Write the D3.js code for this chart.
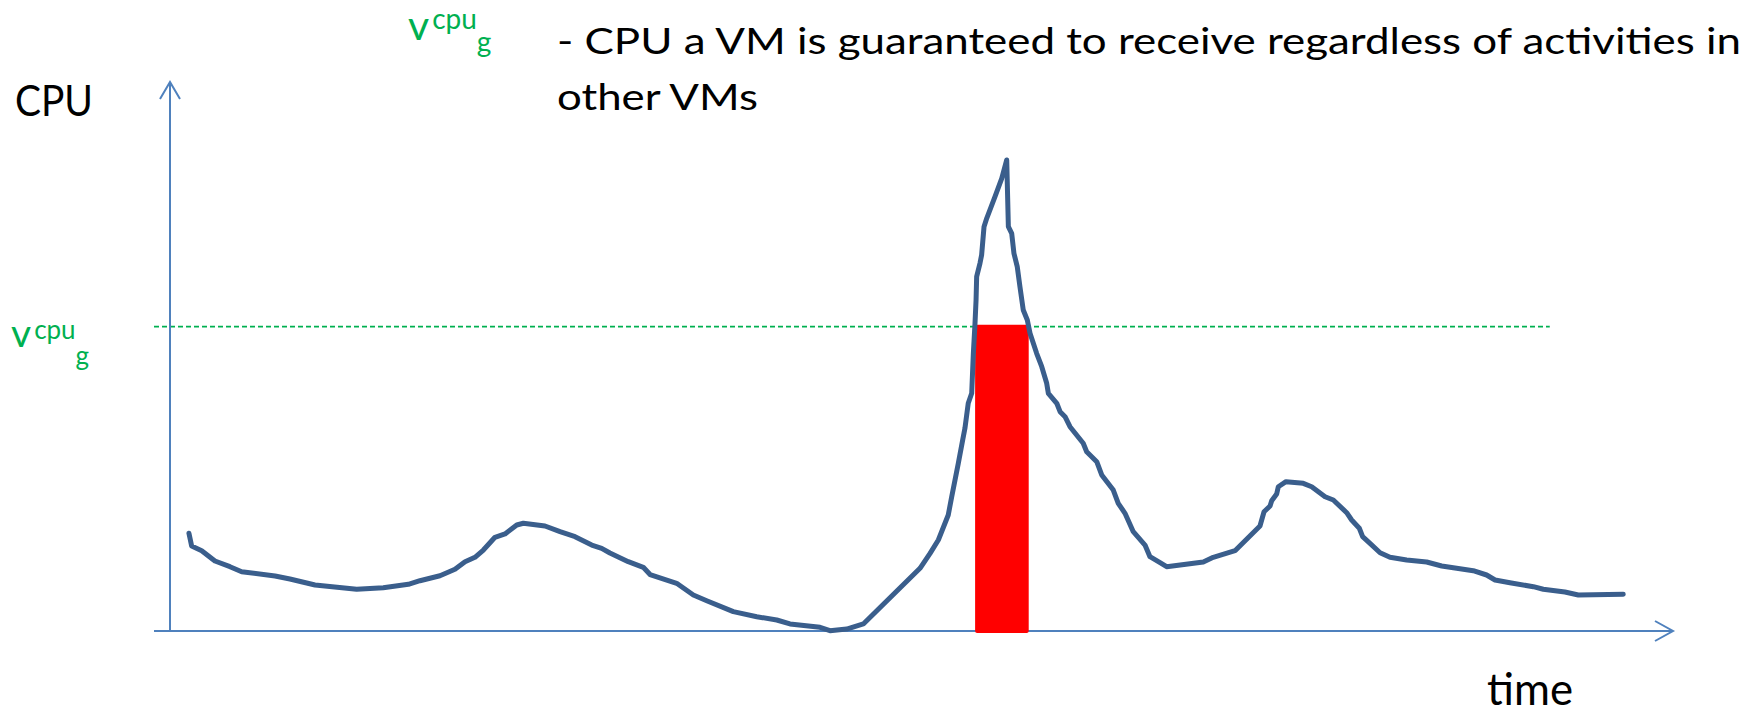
<!DOCTYPE html>
<html>
<head>
<meta charset="utf-8">
<script src="https://cdn.jsdelivr.net/npm/d3@7"></script>
<style>
  body { margin: 0; background: #fff; }
  svg { display: block; }
  text { font-family: Lato, "Open Sans", sans-serif; }
</style>
</head>
<body>
<script>
// time / cpu readings of the curve (time 0..100, cpu 0..100)
var times = [1.26, 1.44, 2.11, 2.99, 3.99, 4.77, 6.99, 7.98, 9.65, 12.42, 14.19, 15.86, 16.63, 17.96, 18.96,
  19.63, 20.29, 20.85, 21.62, 22.29, 23.07, 23.51, 24.95, 25.95, 26.95, 28.06, 28.72, 29.27, 30.49, 31.49,
  31.94, 33.71, 34.82, 35.71, 37.48, 39.04, 40.37, 41.25, 43.25, 43.91, 45.02, 46.13, 49.90, 50.57, 51.12,
  51.78, 52.01, 52.23, 52.45, 52.74, 52.89, 53.11, 53.34, 53.45, 53.56, 53.63, 53.67, 53.89, 54.00, 54.16,
  54.34, 54.89, 55.34, 55.67, 55.78, 56.00, 56.15, 56.37, 56.55, 56.77, 57.04, 57.22, 57.66, 58.00, 58.33,
  58.44, 59.00, 59.22, 59.55, 59.88, 60.76, 60.99, 61.66, 61.99, 62.76, 63.09, 63.54, 64.09, 64.87, 65.20,
  65.87, 66.31, 68.75, 69.41, 70.86, 72.52, 72.79, 73.19, 73.30, 73.63, 73.74, 74.25, 75.40, 75.96, 76.85,
  77.40, 78.29, 78.62, 79.13, 79.35, 79.84, 80.51, 81.17, 82.28, 83.61, 84.61, 86.71, 87.60, 88.16, 89.15,
  90.71, 91.37, 92.81, 93.70, 96.69];
var cpu = [17.80, 15.48, 14.63, 12.75, 11.71, 10.80, 10.02, 9.47, 8.38, 7.60, 7.89, 8.51, 9.16, 10.07, 11.24,
  12.62, 13.42, 14.75, 17.07, 17.67, 19.31, 19.62, 19.13, 18.09, 17.18, 15.66, 15.06, 14.21, 12.62, 11.60,
  10.29, 8.69, 6.56, 5.52, 3.52, 2.60, 2.00, 1.28, 0.67, 0.05, 0.36, 1.28, 11.42, 14.15, 16.58,
  21.13, 24.46, 27.50, 30.55, 34.79, 36.92, 41.48, 43.30, 50.58, 56.05, 60.29, 64.54, 66.98, 68.49, 73.64,
  75.17, 79.11, 82.46, 85.79, 73.64, 72.44, 68.80, 66.36, 62.71, 58.47, 56.65, 54.23, 50.58, 48.14, 45.12,
  43.30, 41.48, 39.95, 39.03, 37.21, 34.19, 32.66, 30.84, 28.42, 25.68, 23.26, 21.44, 18.09, 15.66, 13.53,
  12.44, 11.71, 12.57, 13.42, 14.63, 19.13, 21.73, 22.77, 23.73, 24.95, 26.28, 27.20, 26.90, 26.28, 24.46,
  23.86, 21.55, 20.22, 18.71, 17.18, 15.97, 14.26, 13.42, 12.93, 12.57, 11.84, 10.99, 10.20, 9.29, 8.80,
  8.07, 7.60, 7.10, 6.56, 6.68];

var guaranteed = 55.43;        // v cpu g level
var guaranteedEnd = 91.8;      // dashed line ends here
var barStart = 53.7, barEnd = 57.0;

var width = 1761, height = 714;

var svg = d3.select("body").append("svg")
    .attr("width", width)
    .attr("height", height);

var x = d3.scaleLinear().domain([0, 100]).range([170, 1673]);
var y = d3.scaleLinear().domain([0, 100]).range([631, 82]);

var axisColor = "#4f81bd",
    green = "#00b050";

// dashed guaranteed line
svg.append("line")
    .attr("x1", x.range()[0] - 16)
    .attr("x2", x(guaranteedEnd))
    .attr("y1", y(guaranteed))
    .attr("y2", y(guaranteed))
    .attr("stroke", green)
    .attr("stroke-width", 1.75)
    .attr("stroke-dasharray", "5,3");

// axes with open arrow heads
svg.append("path")
    .attr("d", "M" + x(0) + "," + y(0) + "V" + y(100)
      + "M" + (x(0) - 10) + "," + (y(100) + 17) + "L" + x(0) + "," + y(100) + "L" + (x(0) + 10) + "," + (y(100) + 17))
    .attr("fill", "none")
    .attr("stroke", axisColor)
    .attr("stroke-width", 2);

svg.append("path")
    .attr("d", "M" + (x.range()[0] - 16) + "," + y(0) + "H" + x(100)
      + "M" + (x(100) - 18) + "," + (y(0) - 10) + "L" + x(100) + "," + y(0) + "L" + (x(100) - 18) + "," + (y(0) + 10))
    .attr("fill", "none")
    .attr("stroke", axisColor)
    .attr("stroke-width", 2);

// red bar: what the VM gets up to the guaranteed level
svg.append("rect")
    .attr("x", x(barStart))
    .attr("width", x(barEnd) - x(barStart))
    .attr("y", y(guaranteed))
    .attr("height", y(0) - y(guaranteed))
    .attr("fill", "#ff0000")
    .attr("stroke", "#ff0000")
    .attr("stroke-width", 4)
    .attr("stroke-linejoin", "round");

// cpu curve
var line = d3.line()
    .x(function(d, i) { return x(times[i]); })
    .y(function(d) { return y(d); });

svg.append("path")
    .datum(cpu)
    .attr("d", line)
    .attr("fill", "none")
    .attr("stroke", "#3a5e8c")
    .attr("stroke-width", 5)
    .attr("stroke-linejoin", "round")
    .attr("stroke-linecap", "round");

// labels
svg.append("text")
    .attr("x", 15).attr("y", 116)
    .attr("font-size", 42)
    .attr("textLength", 78).attr("lengthAdjust", "spacingAndGlyphs")
    .text("CPU");

svg.append("text")
    .attr("x", 1487).attr("y", 705)
    .attr("font-size", 45)
    .attr("textLength", 86).attr("lengthAdjust", "spacingAndGlyphs")
    .text("time");

// v with superscript "cpu" and subscript "g", as one text run
function vLabel(x0, base, size, subSize, supDy, subDx, subDy) {
  var t = svg.append("text")
      .attr("x", x0).attr("y", base)
      .attr("fill", green);
  t.append("tspan").attr("font-size", size).text("v");
  t.append("tspan").attr("dx", 3).attr("dy", supDy).attr("font-size", subSize).text("cpu");
  t.append("tspan").attr("dx", subDx).attr("dy", subDy - supDy).attr("font-size", subSize).text("g");
}
vLabel(408, 40, 41, 28, -11.5, 0, 12);
vLabel(11, 346.5, 39, 26, -7.5, 0, 18.5);

svg.append("text")
    .attr("x", 557).attr("y", 53.5)
    .attr("font-size", 37)
    .attr("textLength", 1184).attr("lengthAdjust", "spacingAndGlyphs")
    .text("- CPU a VM is guaranteed to receive regardless of activities in");

svg.append("text")
    .attr("x", 557).attr("y", 110)
    .attr("font-size", 37)
    .attr("textLength", 201).attr("lengthAdjust", "spacingAndGlyphs")
    .text("other VMs");
</script>
</body>
</html>
